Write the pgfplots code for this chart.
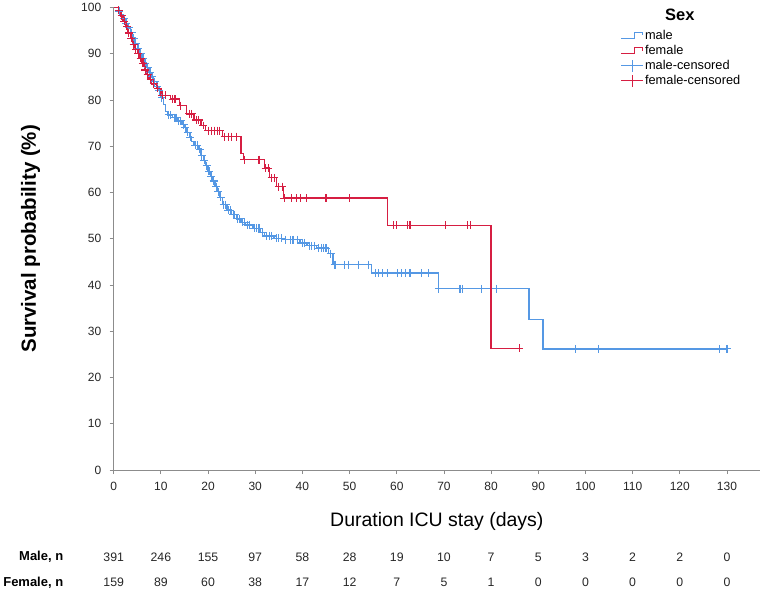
\documentclass[border=0pt]{standalone}
\usepackage{pgfplots}
\pgfplotsset{compat=1.18}
\usepackage{fontspec}
\setmainfont{Liberation Sans}
\definecolor{mblue}{RGB}{85,152,228}
\definecolor{fred}{RGB}{214,30,66}
\definecolor{axgray}{RGB}{140,140,140}
\pgfplotsset{
  steplegendb/.style={legend image code/.code={\draw[mblue, line width=1pt] (0pt,-3pt)--(13pt,-3pt)--(13pt,3pt)--(21pt,3pt)--(21pt,0pt);}},
  steplegendr/.style={legend image code/.code={\draw[fred, line width=1pt] (0pt,-3pt)--(13pt,-3pt)--(13pt,3pt)--(21pt,3pt)--(21pt,0pt);}},
  censlegendb/.style={legend image code/.code={\draw[mblue, line width=1pt] (0pt,0pt)--(22pt,0pt); \draw[mblue, line width=1pt] (11pt,-6pt)--(11pt,6pt);}},
  censlegendr/.style={legend image code/.code={\draw[fred, line width=1pt] (0pt,0pt)--(22pt,0pt); \draw[fred, line width=1pt] (11pt,-6pt)--(11pt,6pt);}},
}
\begin{document}
\begin{tikzpicture}
\begin{axis}[
  scale only axis, width=647pt, height=463pt,
  xmin=0, xmax=137, ymin=0, ymax=100,
  axis lines=left, axis line style={axgray, line width=0.8pt, -},
  xtick={0,10,...,130}, ytick={0,10,...,100},
  tick align=outside, major tick length=4pt,
  tick style={axgray, line width=0.8pt},
  tick label style={font=\fontsize{12}{14}\selectfont, text=black!85},
  xticklabel style={yshift=-5pt},
  yticklabel style={xshift=-5pt},
  /pgf/number format/assume math mode=true,
  clip=false,
  legend style={at={(rel axis cs:0.784,0.955)}, anchor=north west, draw=none, fill=none,
    font=\fontsize{12.8}{15}\selectfont, row sep=1.3pt, inner sep=0pt,
    nodes={inner sep=1.5pt}},
  legend cell align=left,
]
% male step curve
\addplot[const plot, mblue, line width=1.3pt, forget plot] coordinates {
(0,100)(1,99.2)(1.5,98.4)(2,97.6)(2.5,96.6)(3,95.6)(3.5,94.6)(4,93.4)(4.5,92.3)(5,91.2)(5.5,90.1)(6,89)(6.5,88)(7,87)(7.5,86)(8,85)(8.5,84)(9,83)(9.5,82)(10,80.5)(10.5,79)(11,77.5)(11.5,76.8)(12.5,76.2)(13.5,75.5)(14.5,74.7)(15,74)(15.5,73)(16,72)(16.5,71)(17,70.2)(18,69.4)(18.5,68)(19,67)(19.5,65.8)(20,64.6)(20.5,63.5)(21,62.5)(21.5,61.3)(22,60.2)(22.5,59)(23,57.4)(24,56.2)(25,55.2)(26,54.3)(27,53.6)(28,53)(29.5,52.3)(31,51.3)(32,50.6)(34,50.1)(36,49.8)(39.5,49.1)(41,48.5)(43,48)(45.5,46.8)(46.5,44.4)(54.7,42.6)(68.8,39.2)(88,32.5)(91,26.2)(130,26.2)
};
% female step curve
\addplot[const plot, fred, line width=1.3pt, forget plot] coordinates {
(0,100)(1,99.4)(1.5,98.2)(2,97)(2.5,96)(3,94.5)(3.5,93.4)(4,92)(4.5,91)(5,90)(5.5,89)(6,88)(6.5,86.5)(7,85.5)(7.5,84.5)(8,83.5)(9,82.5)(10,81)(12,80.2)(14,78.8)(15.5,77)(17,75.7)(18.5,74.5)(19.5,73.4)(23,72.1)(27,68.5)(27.5,67.1)(32,65.3)(33,63.2)(34.5,61.3)(36,58.8)(58,52.9)(80,26.3)(86,26.3)
};
% male censored
\addplot[only marks, mark=+, mark size=4pt, mblue, line width=1.1pt, forget plot] coordinates {
(1.2,99.2)(2.2,97.6)(2.7,96.6)(3.2,95.6)(3.8,94.6)(4.2,93.4)(4.7,92.3)(5.2,91.2)(5.7,90.1)(6.2,89)(6.7,88)(7.2,87)(7.7,86)(8.2,85)(8.7,84)(9.2,83)(9.7,82)(10.2,80.5)(11.7,76.8)(12,76.8)(12.8,76.2)(13.2,76.2)(13.8,75.5)(14.2,75.5)(14.8,74.7)(15.2,74)(15.7,73)(16.2,72)(17.3,70.2)(17.7,70.2)(18.2,69.4)(18.7,68)(19.2,67)(19.7,65.8)(20.2,64.6)(20.7,63.5)(21.2,62.5)(21.7,61.3)(22.2,60.2)(22.7,59)(23.3,57.4)(23.7,57.4)(24.3,56.2)(24.7,56.2)(25.3,55.2)(25.7,55.2)(26.3,54.3)(26.7,54.3)(27.3,53.6)(27.8,53.6)(28.3,53)(28.8,53)(29.8,52.3)(30.3,52.3)(30.8,52.3)(31.5,51.3)(32.3,50.6)(33,50.6)(33.5,50.6)(34.5,50.1)(35,50.1)(35.5,50.1)(36.5,49.8)(37.5,49.8)(38,49.8)(39,49.8)(40,49.1)(40.5,49.1)(41.5,48.5)(42,48.5)(42.5,48.5)(43.5,48)(44,48)(44.5,48)(45,48)(46,46.8)(46.9,44.4)(49,44.4)(49.7,44.4)(51.9,44.4)(54,44.4)(55.4,42.6)(56.1,42.6)(57,42.6)(58,42.6)(60.1,42.6)(61,42.6)(61.9,42.6)(62.8,42.6)(65.3,42.6)(66.7,42.6)(68.9,39.2)(73.4,39.2)(73.9,39.2)(77.9,39.2)(81.1,39.2)(97.9,26.2)(102.8,26.2)(128.5,26.2)(130,26.2)
};
% female censored
\addplot[only marks, mark=+, mark size=4pt, fred, line width=1.1pt, forget plot] coordinates {
(1.1,99.4)(1.7,98.2)(2.2,97)(2.8,96)(3.2,94.5)(3.7,93.4)(4.2,92)(4.7,91)(5.2,90)(5.7,89)(6.2,88)(6.7,86.5)(7.2,85.5)(7.8,84.5)(8.5,83.5)(9.3,82.5)(10.3,81)(11,81)(12.5,80.2)(13,80.2)(14.2,78.8)(16,77)(16.5,77)(17.5,75.7)(18,75.7)(19,74.5)(20,73.4)(20.7,73.4)(21.3,73.4)(22,73.4)(22.5,73.4)(23.5,72.1)(24.3,72.1)(25,72.1)(26,72.1)(27.7,67.1)(30.8,67.1)(32.2,65.3)(32.8,65.3)(33.5,63.2)(34,63.2)(35,61.3)(35.7,61.3)(36.2,58.8)(37.6,58.8)(38.8,58.8)(39.5,58.8)(40.8,58.8)(45,58.8)(49.9,58.8)(59.4,52.9)(59.9,52.9)(62.2,52.9)(62.8,52.9)(70.3,52.9)(74.9,52.9)(75.6,52.9)(86,26.3)
};
% legend entries
\addlegendimage{steplegendb}
\addlegendentry{male}
\addlegendimage{steplegendr}
\addlegendentry{female}
\addlegendimage{censlegendb}
\addlegendentry{male-censored}
\addlegendimage{censlegendr}
\addlegendentry{female-censored}
\node[font=\bfseries\fontsize{16.5}{19}\selectfont] at (rel axis cs:0.876,0.985) {Sex};
\node[rotate=90, font=\bfseries\fontsize{20.5}{24}\selectfont] at (axis cs:-17.6,50) {Survival probability (\%)};
\node[font=\fontsize{19.5}{23}\selectfont] at (rel axis cs:0.5,-0.112) {Duration ICU stay (days)};
\end{axis}
\node[anchor=east, font=\bfseries\fontsize{13}{16}\selectfont] at (-47pt,-87pt) {Male, n};
\node[anchor=east, font=\bfseries\fontsize{13}{16}\selectfont] at (-47pt,-112.5pt) {Female, n};
\foreach \t/\m/\f in {0/391/159,10/246/89,20/155/60,30/97/38,40/58/17,50/28/12,60/19/7,70/10/5,80/7/1,90/5/0,100/3/0,110/2/0,120/2/0,130/0/0}{
  \node[font=\fontsize{12.3}{14}\selectfont, text=black!85] at (\t*4.7226pt,-87pt) {\m};
  \node[font=\fontsize{12.3}{14}\selectfont, text=black!85] at (\t*4.7226pt,-112.5pt) {\f};
}
\path (-113pt,-123pt) rectangle (649pt,469pt);
\end{tikzpicture}
\end{document}
